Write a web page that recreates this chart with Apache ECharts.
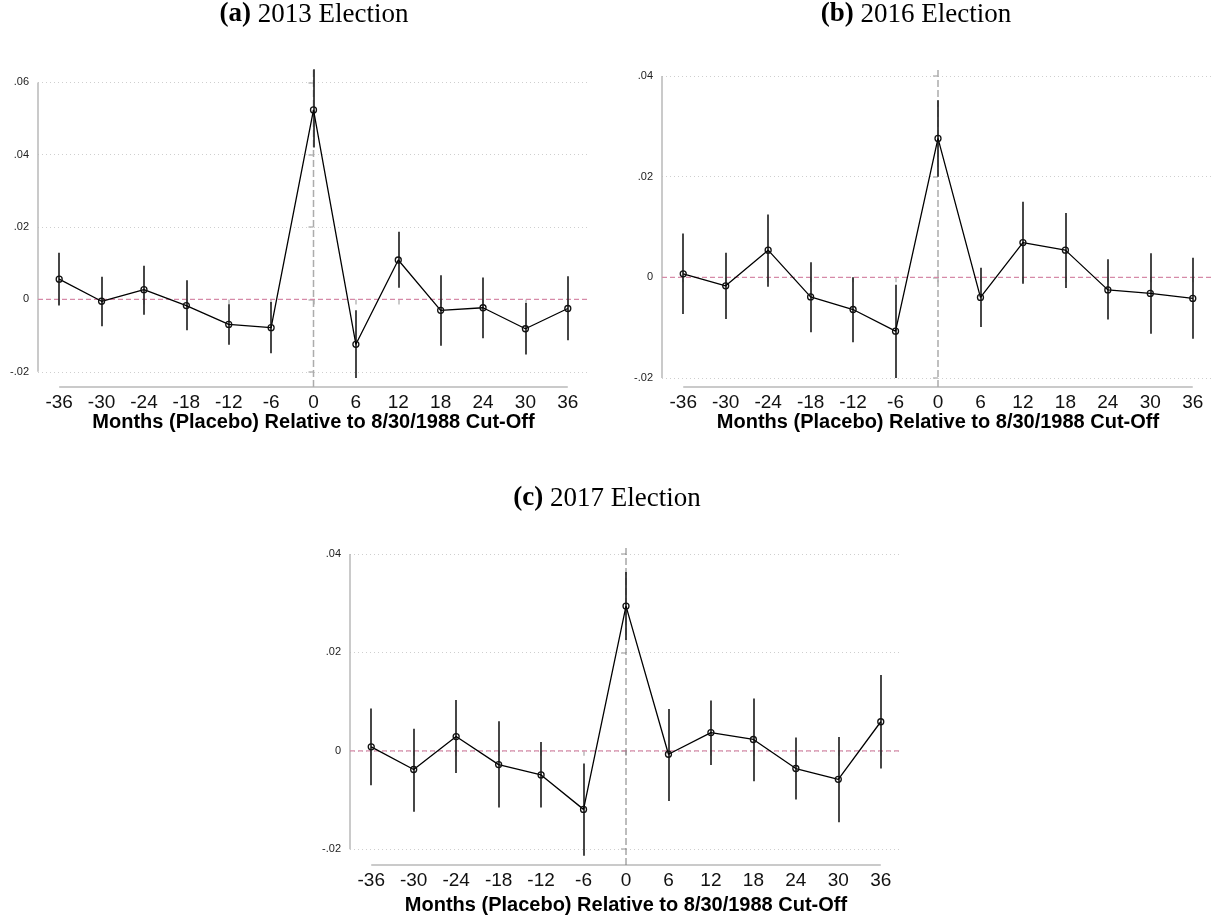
<!DOCTYPE html>
<html>
<head>
<meta charset="utf-8">
<script src="https://cdn.jsdelivr.net/npm/echarts@6/dist/echarts.min.js"></script>
<style>
  html, body { margin: 0; padding: 0; background: #fff; }
  #chart { width: 1221px; height: 919px; }
</style>
</head>
<body>
<div id="chart"></div>
<script>
// months relative to the cut-off
const months = [-36, -30, -24, -18, -12, -6, 0, 6, 12, 18, 24, 30, 36];

// (a) 2013
const est2013 = [0.0056, -0.0005, 0.0027, -0.0017, -0.0069, -0.0078, 0.0524, -0.0124, 0.0109, -0.0030, -0.0023, -0.0081, -0.0025];
const lo2013 = [-0.0017, -0.0074, -0.0042, -0.0085, -0.0125, -0.0149, 0.0420, -0.0217, 0.0032, -0.0128, -0.0107, -0.0152, -0.0113];
const hi2013 = [0.0129, 0.0063, 0.0093, 0.0053, -0.0013, -0.0007, 0.0636, -0.0030, 0.0187, 0.0067, 0.0061, -0.0010, 0.0064];

// (b) 2016
const est2016 = [0.0007, -0.0017, 0.0054, -0.0039, -0.0064, -0.0107, 0.0276, -0.0040, 0.0069, 0.0054, -0.0025, -0.0032, -0.0042];
const lo2016 = [-0.0073, -0.0083, -0.0019, -0.0109, -0.0129, -0.0200, 0.0200, -0.0099, -0.0013, -0.0021, -0.0084, -0.0112, -0.0122];
const hi2016 = [0.0087, 0.0049, 0.0125, 0.0030, 0.0000, -0.0015, 0.0352, 0.0019, 0.0150, 0.0128, 0.0036, 0.0048, 0.0039];

// (c) 2017
const est2017 = [0.0008, -0.0038, 0.0029, -0.0028, -0.0049, -0.0119, 0.0294, -0.0007, 0.0037, 0.0023, -0.0036, -0.0058, 0.0059];
const lo2017 = [-0.0070, -0.0124, -0.0045, -0.0115, -0.0115, -0.0213, 0.0225, -0.0102, -0.0029, -0.0062, -0.0099, -0.0145, -0.0036];
const hi2017 = [0.0086, 0.0045, 0.0103, 0.0060, 0.0018, -0.0026, 0.0363, 0.0085, 0.0102, 0.0106, 0.0027, 0.0028, 0.0154];

// tick labels
const yTicks2013 = [-0.02, 0, 0.02, 0.04, 0.06];
const yTicks2016 = [-0.02, 0, 0.02, 0.04];
const yTicks2017 = [-0.02, 0, 0.02, 0.04];

const xTitle = 'Months (Placebo) Relative to 8/30/1988 Cut-Off';

const panels = [
  { tag: '(a)', title: '2013 Election', est: est2013, lo: lo2013, hi: hi2013, yTicks: yTicks2013,
    yMin: -0.0242, yMax: 0.0637, grid: { left: 38, top: 69, width: 551, height: 318 }, tx: 309, ty: -4, gap: 19 },
  { tag: '(b)', title: '2016 Election', est: est2016, lo: lo2016, hi: hi2016, yTicks: yTicks2016,
    yMin: -0.0218, yMax: 0.0414, grid: { left: 662, top: 69, width: 552, height: 318 }, tx: 911, ty: -4, gap: 19 },
  { tag: '(c)', title: '2017 Election', est: est2017, lo: lo2017, hi: hi2017, yTicks: yTicks2017,
    yMin: -0.0232, yMax: 0.0412, grid: { left: 350, top: 548, width: 552, height: 317 }, tx: 602, ty: 480, gap: 30 }
];

const X_MIN = -39, X_MAX = 39;
const AXIS_GRAY = '#b9b9b9';

// stata style: .02, -.02, 0
const fmtY = v => {
  if (Math.abs(v) < 1e-9) return '0';
  return (v < 0 ? '-' : '') + Math.abs(v).toFixed(2).replace(/^0/, '');
};

// plain two-point line, used for axis lines and reference lines
const segment = (i, pts, lineStyle, z) => ({
  type: 'line',
  xAxisIndex: i,
  yAxisIndex: i,
  data: pts,
  symbol: 'none',
  silent: true,
  clip: false,
  lineStyle: lineStyle,
  z: z
});

const option = {
  backgroundColor: '#fff',
  animation: false,
  title: [],
  grid: [],
  xAxis: [],
  yAxis: [],
  series: []
};

panels.forEach((p, i) => {
  option.title.push({
    text: '{b|' + p.tag + '} ' + p.title,
    left: p.tx,
    top: p.ty,
    textAlign: 'center',
    textStyle: {
      fontFamily: 'Liberation Serif',
      fontSize: 27,
      fontWeight: 'normal',
      color: '#000',
      rich: { b: { fontFamily: 'Liberation Serif', fontSize: 27, fontWeight: 'bold', color: '#000' } }
    }
  });

  option.grid.push(p.grid);

  option.xAxis.push({
    type: 'value',
    gridIndex: i,
    min: X_MIN,
    max: X_MAX,
    name: xTitle,
    nameLocation: 'middle',
    nameGap: p.gap,
    nameTextStyle: { fontFamily: 'Liberation Sans', fontSize: 20, fontWeight: 'bold', color: '#000' },
    axisLine: { show: false },
    axisTick: { show: true, length: 5, customValues: months, lineStyle: { color: AXIS_GRAY, width: 1.5 } },
    axisLabel: { customValues: months, margin: 6, fontFamily: 'Liberation Sans', fontSize: 19, color: '#111' },
    splitLine: { show: false }
  });

  option.yAxis.push({
    type: 'value',
    gridIndex: i,
    min: p.yMin,
    max: p.yMax,
    axisLine: { show: false },
    axisTick: { show: true, length: 5, customValues: p.yTicks, lineStyle: { color: AXIS_GRAY, width: 1.5 } },
    axisLabel: { customValues: p.yTicks, margin: 9, fontFamily: 'Liberation Sans', fontSize: 11, color: '#222', formatter: fmtY },
    splitLine: { show: true, lineStyle: { color: '#cfcfcf', width: 1, type: [1, 3] } }
  });

  const first = p.yTicks[0], last = p.yTicks[p.yTicks.length - 1];

  // axis lines only span the tick range
  option.series.push(segment(i, [[X_MIN, first], [X_MIN, last]], { color: AXIS_GRAY, width: 1.5 }, 1));
  option.series.push(segment(i, [[months[0], p.yMin], [months[months.length - 1], p.yMin]], { color: AXIS_GRAY, width: 1.5 }, 1));

  // zero line
  option.series.push(segment(i, [[X_MIN, 0], [X_MAX, 0]], { color: '#d68aa8', width: 1.2, type: [5, 3] }, 2));

  // cut-off line
  option.series.push(segment(i, [[0, p.yMin], [0, p.yMax]],
    { color: i === 2 ? '#7a7a7a' : '#acacac', width: i === 2 ? 1 : 1.5, type: [7, 3] }, 2));

  // confidence intervals
  option.series.push({
    type: 'lines',
    coordinateSystem: 'cartesian2d',
    xAxisIndex: i,
    yAxisIndex: i,
    silent: true,
    lineStyle: { color: '#262626', width: 1.7, opacity: 1 },
    data: months.map((m, k) => ({ coords: [[m, p.lo[k]], [m, p.hi[k]]] })),
    z: 3
  });

  // point estimates
  option.series.push({
    type: 'line',
    xAxisIndex: i,
    yAxisIndex: i,
    data: months.map((m, k) => [m, p.est[k]]),
    symbol: 'circle',
    symbolSize: 6,
    lineStyle: { color: '#000', width: 1.3 },
    itemStyle: { color: 'rgba(255,255,255,0)', borderColor: '#111', borderWidth: 1.3 },
    z: 5
  });
});

const chart = echarts.init(document.getElementById('chart'));
chart.setOption(option);
</script>
</body>
</html>
